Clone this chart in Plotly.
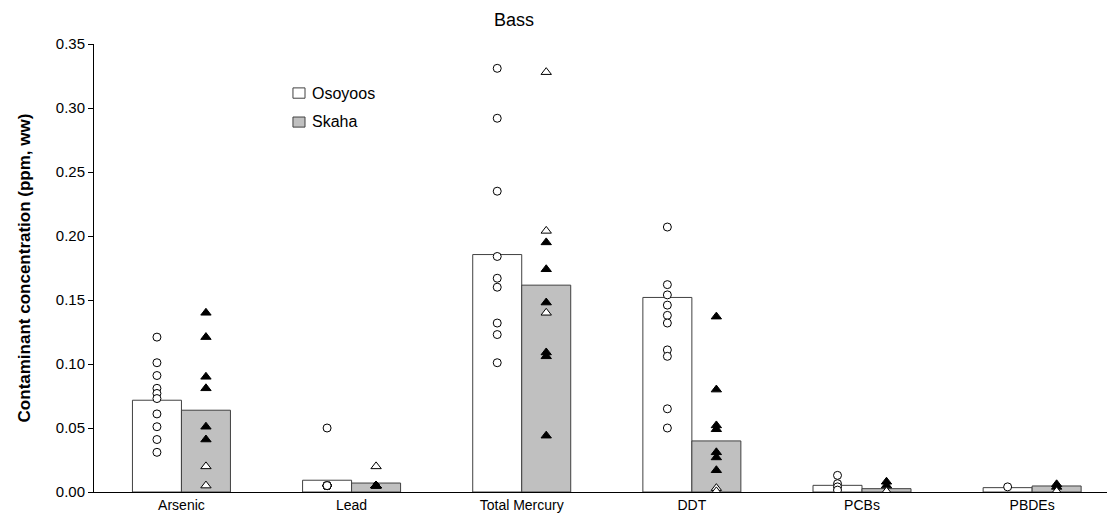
import plotly.graph_objects as go

# ---------------- data ----------------
categories = ["Arsenic", "Lead", "Total Mercury", "DDT", "PCBs", "PBDEs"]

osoyoos_mean = [0.0717, 0.0092, 0.1855, 0.1520, 0.0052, 0.0034]
skaha_mean = [0.0639, 0.0070, 0.1616, 0.0399, 0.0026, 0.0047]

# individual fish, Osoyoos (open circles)
osoyoos_arsenic = [0.121, 0.101, 0.091, 0.081, 0.077, 0.073, 0.061, 0.051, 0.041, 0.031]
osoyoos_lead = [0.050, 0.005, 0.005, 0.005, 0.005, 0.005, 0.005, 0.005, 0.005, 0.005]
osoyoos_mercury = [0.331, 0.292, 0.235, 0.184, 0.167, 0.160, 0.132, 0.123, 0.101]
osoyoos_ddt = [0.207, 0.162, 0.154, 0.146, 0.138, 0.132, 0.111, 0.106, 0.065, 0.050]
osoyoos_pcbs = [0.013, 0.0065, 0.004, 0.0015]
osoyoos_pbdes = [0.004]

# individual fish, Skaha (filled triangles)
skaha_arsenic = [0.140, 0.121, 0.090, 0.081, 0.051, 0.041]
skaha_lead = [0.005, 0.005, 0.005, 0.005, 0.005, 0.005, 0.005]
skaha_mercury = [0.195, 0.174, 0.148, 0.109, 0.106, 0.044]
skaha_ddt = [0.137, 0.080, 0.052, 0.049, 0.031, 0.027, 0.017]
skaha_pcbs = [0.008, 0.005]
skaha_pbdes = [0.006, 0.004]

# individual fish, Skaha (open triangles)
skaha_open_arsenic = [0.020, 0.005]
skaha_open_lead = [0.020]
skaha_open_mercury = [0.328, 0.204, 0.140]
skaha_open_ddt = [0.003, 0.0005]
skaha_open_pcbs = [0.0005]
skaha_open_pbdes = [0.0005]

tick_vals = [0.00, 0.05, 0.10, 0.15, 0.20, 0.25, 0.30, 0.35]

osoyoos_points = [osoyoos_arsenic, osoyoos_lead, osoyoos_mercury,
                  osoyoos_ddt, osoyoos_pcbs, osoyoos_pbdes]
skaha_points = [skaha_arsenic, skaha_lead, skaha_mercury,
                skaha_ddt, skaha_pcbs, skaha_pbdes]
skaha_open_points = [skaha_open_arsenic, skaha_open_lead, skaha_open_mercury,
                     skaha_open_ddt, skaha_open_pcbs, skaha_open_pbdes]

# ---------------- figure ----------------
BW = 0.288
idx = list(range(len(categories)))

def flatten(groups, shift):
    xs, ys = [], []
    for i, g in enumerate(groups):
        for v in g:
            xs.append(i + shift)
            ys.append(v)
    return xs, ys

fig = go.Figure()
fig.add_trace(go.Bar(x=idx, y=osoyoos_mean, width=BW, offset=-BW,
                     marker=dict(color="white", line=dict(color="#404040", width=1)),
                     name="Osoyoos", showlegend=False))
fig.add_trace(go.Bar(x=idx, y=skaha_mean, width=BW, offset=0,
                     marker=dict(color="#c0c0c0", line=dict(color="#404040", width=1)),
                     name="Skaha", showlegend=False))

ox, oy = flatten(osoyoos_points, -BW / 2)
fig.add_trace(go.Scatter(x=ox, y=oy, mode="markers", showlegend=False,
                         marker=dict(symbol="circle", size=8, color="white",
                                     line=dict(color="black", width=1))))
sx, sy = flatten(skaha_points, BW / 2)
fig.add_trace(go.Scatter(x=sx, y=sy, mode="markers", showlegend=False,
                         marker=dict(symbol="triangle-up", size=9, color="black",
                                     line=dict(color="black", width=1))))
tx, ty = flatten(skaha_open_points, BW / 2)
fig.add_trace(go.Scatter(x=tx, y=ty, mode="markers", showlegend=False,
                         marker=dict(symbol="triangle-up", size=9, color="white",
                                     line=dict(color="black", width=1))))

# manual legend
legend_items = [("Osoyoos", "white", 0.902, 0.879, 0.8905),
                ("Skaha", "#c0c0c0", 0.837, 0.8145, 0.826)]
for label, col, y0, y1, yc in legend_items:
    fig.add_shape(type="rect", xref="paper", yref="paper",
                  x0=0.1964, x1=0.2083, y0=y1, y1=y0,
                  fillcolor=col, line=dict(color="#404040", width=1))
    fig.add_annotation(xref="paper", yref="paper", x=0.2132, y=yc,
                       text=label, showarrow=False, xanchor="left", yanchor="middle",
                       font=dict(size=16, color="black"))

fig.update_layout(
    width=1107, height=527,
    margin=dict(l=94, r=0, t=44, b=35),
    paper_bgcolor="white", plot_bgcolor="white",
    font=dict(family="Liberation Sans, Arial, sans-serif", color="black"),
    title=dict(text="Bass", x=514 / 1107, xanchor="center", y=1 - 20 / 527,
               yanchor="middle", font=dict(size=18, color="black")),
    xaxis=dict(range=[-0.514, 5.44], tickvals=idx, ticktext=categories,
               showline=True, linecolor="black", linewidth=1, ticks="",
               showgrid=False, zeroline=False, tickfont=dict(size=14)),
    yaxis=dict(range=[0, 0.35], tickvals=tick_vals, tickformat=".2f",
               showline=True, linecolor="black", linewidth=1,
               ticks="outside", ticklen=5, tickcolor="black",
               showgrid=False, zeroline=False, tickfont=dict(size=15),
               title=dict(text="<b>Contaminant concentration (ppm, ww)</b>",
                          font=dict(size=17), standoff=20)),
)

fig.write_html("out.html")
